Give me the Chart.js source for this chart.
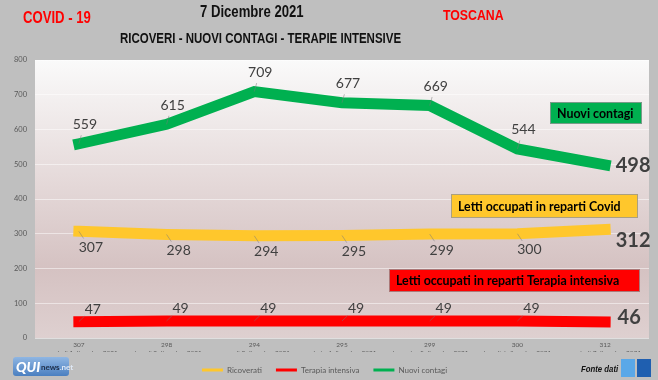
<!DOCTYPE html>
<html><head><meta charset="utf-8">
<script src="https://cdn.jsdelivr.net/npm/chart.js@4/dist/chart.umd.min.js"></script>
<style>
html,body{margin:0;padding:0;background:#bfbfbf;}
#wrap{position:relative;width:658px;height:380px;overflow:hidden;font-family:"Liberation Sans",Arial,sans-serif;}
canvas{position:absolute;left:0;top:0;}
.t{position:absolute;font-weight:bold;white-space:nowrap;line-height:1;transform:scaleX(0.82);transform-origin:0 0;}
</style></head><body>
<div id="wrap">
<canvas id="c" width="658" height="380"></canvas>
<div class="t" style="left:23px;top:10px;font-size:16px;color:#ff0000;">COVID - 19</div>
<div class="t" style="left:200px;top:4px;font-size:16px;color:#111;">7 Dicembre 2021</div>
<div class="t" style="left:120px;top:31px;font-size:14px;color:#111;">RICOVERI - NUOVI CONTAGI - TERAPIE INTENSIVE</div>
<div class="t" style="left:443px;top:7px;font-size:15px;color:#ff0000;">TOSCANA</div>
<div style="position:absolute;left:13px;top:357px;width:56px;height:19px;border-radius:3px;background:linear-gradient(#8fb6e3,#4a7fc0);font-family:Lato,sans-serif;">
<span style="position:absolute;left:3px;top:1px;font-size:14px;font-weight:900;color:#fff;font-style:italic;">QUI</span>
<span style="position:absolute;left:28px;top:5px;font-size:8px;font-weight:bold;color:#20304a;">news<span style="color:#dfe8f5;">.net</span></span>
</div>
<div class="t" style="left:581px;top:364px;font-size:9.5px;font-style:italic;color:#111;">Fonte dati</div>
<div style="position:absolute;left:621px;top:359px;width:14px;height:18px;background:#5aa8e8;"></div>
<div style="position:absolute;left:637px;top:359px;width:14px;height:18px;background:#1f5fb0;"></div>
</div>
<script>
const categories = ["mercoledì 1 dicembre 2021","giovedì 2 dicembre 2021","venerdì 3 dicembre 2021","sabato 4 dicembre 2021","domenica 5 dicembre 2021","lunedì 6 dicembre 2021","martedì 7 dicembre 2021"];
const ricoverati = [307,298,294,295,299,300,312];
const terapiaIntensiva = [47,49,49,49,49,49,46];
const nuoviContagi = [559,615,709,677,669,544,498];
const yTicks = [0,100,200,300,400,500,600,700,800];

const labels = categories.map((c,i)=>[String(ricoverati[i]), c]);

const labelOffsets = [ {dx:12, dy:16, ldx:28, ldy:11}, {dx:14, dy:-12, ldx:24, ldy:-4}, {dx:6, dy:-19, ldx:28, ldy:1} ];

const bgPlugin = {
  id:'bg',
  beforeDraw(chart){
    const {ctx, chartArea:a} = chart;
    const g = ctx.createLinearGradient(0,a.top,0,a.bottom);
    g.addColorStop(0,'#fafafa');
    g.addColorStop(0.45,'#e4d8d8');
    g.addColorStop(0.75,'#d5c2c2');
    g.addColorStop(1,'#ded0d0');
    ctx.save();
    ctx.fillStyle = g;
    ctx.fillRect(a.left,a.top,a.right-a.left,a.bottom-a.top);
    ctx.restore();
  }
};

const labelPlugin = {
  id:'vals',
  afterDatasetsDraw(chart){
    const ctx = chart.ctx;
    chart.data.datasets.forEach((ds,di)=>{
      const meta = chart.getDatasetMeta(di);
      const o = labelOffsets[di];
      meta.data.forEach((pt,i)=>{
        const last = i === meta.data.length-1;
        ctx.save();
        ctx.fillStyle = '#404040';
        ctx.textAlign = 'center';
        ctx.textBaseline = 'middle';
        if(last){
          ctx.font = 'bold 20px Lato, sans-serif';
          ctx.fillText(String(ds.data[i]), pt.x+o.ldx, pt.y+o.ldy);
        } else {
          ctx.font = '14px Lato, sans-serif';
          const lx = pt.x+o.dx, ly = pt.y+o.dy;
          ctx.strokeStyle = 'rgba(120,120,120,0.7)';
          ctx.lineWidth = 0.7;
          ctx.beginPath();
          ctx.moveTo(pt.x, pt.y);
          ctx.lineTo(pt.x + o.dx*0.4, pt.y + o.dy*0.45);
          ctx.stroke();
          ctx.fillText(String(ds.data[i]), lx, ly);
        }
        ctx.restore();
      });
    });
  }
};

const boxPlugin = {
  id:'boxes',
  afterDatasetsDraw(chart){
    const ctx = chart.ctx;
    const boxes = [
      {x:550,y:102,w:92,h:22,fill:'#00b050',text:'Nuovi contagi'},
      {x:451,y:194,w:187,h:24,fill:'#ffc72c',text:'Letti occupati in reparti Covid'},
      {x:389,y:269,w:251,h:23,fill:'#ff0000',text:'Letti occupati in reparti Terapia intensiva'}
    ];
    boxes.forEach(b=>{
      ctx.save();
      ctx.fillStyle = b.fill;
      ctx.fillRect(b.x,b.y,b.w,b.h);
      ctx.strokeStyle = 'rgba(150,150,150,0.8)';
      ctx.lineWidth = 1;
      ctx.strokeRect(b.x+0.5,b.y+0.5,b.w-1,b.h-1);
      ctx.fillStyle = '#000';
      ctx.font = 'bold 12.4px Lato, sans-serif';
      ctx.textBaseline = 'middle';
      ctx.fillText(b.text, b.x+7, b.y+b.h/2+0.5);
      ctx.restore();
    });
  }
};

new Chart(document.getElementById('c'), {
  type:'line',
  data:{
    labels: labels,
    datasets:[
      {label:'Ricoverati', data:ricoverati, borderColor:'#ffc72c', backgroundColor:'#ffc72c', borderWidth:11, borderCapStyle:'square', pointRadius:0, tension:0},
      {label:'Terapia intensiva', data:terapiaIntensiva, borderColor:'#ff0000', backgroundColor:'#ff0000', borderWidth:11, borderCapStyle:'square', pointRadius:0, tension:0},
      {label:'Nuovi contagi', data:nuoviContagi, borderColor:'#00b050', backgroundColor:'#00b050', borderWidth:11, borderCapStyle:'square', pointRadius:0, tension:0}
    ]
  },
  options:{
    responsive:false,
    animation:false,
    layout:{padding:{left:0,right:9,top:60,bottom:-4}},
    plugins:{
      legend:{
        position:'bottom',
        labels:{
          boxWidth:21, boxHeight:3, padding:14, color:'#595959', font:{size:8, family:'Lato, sans-serif'},
          generateLabels(chart){
            const items = Chart.defaults.plugins.legend.labels.generateLabels(chart);
            items.forEach(it=>{ it.lineWidth = 0; it.strokeStyle = it.fillStyle; });
            return items;
          }
        }
      },
      tooltip:{enabled:false}
    },
    scales:{
      x:{
        offset:true,
        grid:{display:false, drawTicks:false},
        border:{display:false},
        ticks:{color:'#595959', font:{size:6.5, family:'Lato, sans-serif', lineHeight:1.2}, maxRotation:0, autoSkip:false, padding:3},
        afterFit(s){ s.height = 14; }
      },
      y:{
        min:0, max:800,
        afterBuildTicks(s){ s.ticks = yTicks.map(v=>({value:v})); },
        grid:{color:'rgba(255,255,255,0.5)', drawTicks:false},
        border:{display:false},
        ticks:{color:'#595959', font:{size:7.5, family:'Lato, sans-serif'}, padding:8},
        afterFit(s){ s.width = 35; }
      }
    }
  },
  plugins:[bgPlugin, labelPlugin, boxPlugin]
});
</script>
</body></html>
